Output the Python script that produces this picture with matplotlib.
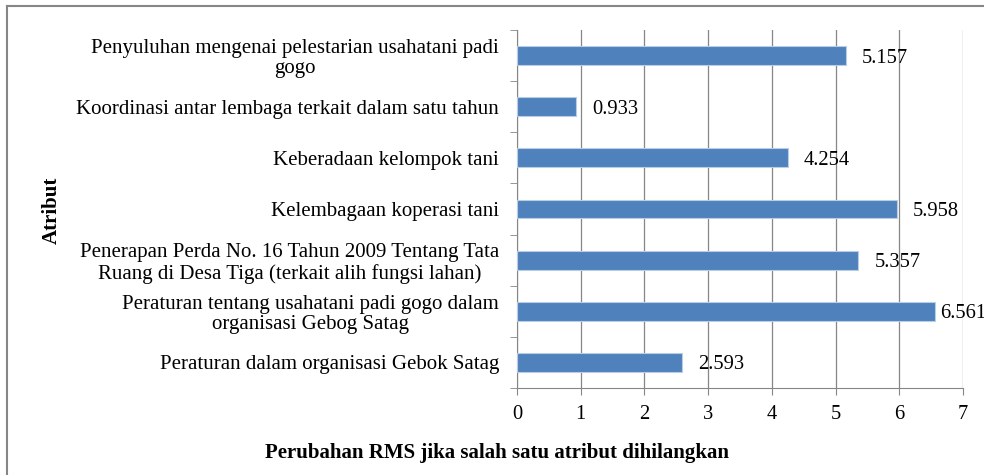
import matplotlib
matplotlib.use('Agg')
from matplotlib import pyplot as plt
from matplotlib.lines import Line2D

# data, top to bottom as in the chart
atribut = [
    'Penyuluhan mengenai pelestarian usahatani padi\ngogo',
    'Koordinasi antar lembaga terkait dalam satu tahun',
    'Keberadaan kelompok tani',
    'Kelembagaan koperasi tani',
    'Penerapan Perda No. 16 Tahun 2009 Tentang Tata\nRuang di Desa Tiga (terkait alih fungsi lahan)',
    'Peraturan tentang usahatani padi gogo dalam\norganisasi Gebog Satag',
    'Peraturan dalam organisasi Gebok Satag',
]
rms = [5.157, 0.933, 4.254, 5.958, 5.357, 6.561, 2.593]
xticks = [0, 1, 2, 3, 4, 5, 6, 7]

plt.rcParams['font.family'] = ['Liberation Serif', 'DejaVu Serif']

fig = plt.figure(figsize=(9.84, 4.75), dpi=100)
ax = fig.add_axes([0.5254, 0.1832, 0.4533, 0.7536])

n = len(atribut)
pos = list(range(n - 1, -1, -1))
ax.barh(pos, rms, height=0.37, color='#4F81BD', edgecolor='#B9CDE5', linewidth=0.8, zorder=3)

# labels pushed left when they would run past the plot edge
for p, v in zip(pos, rms):
    ax.text(min(v + 0.25, 6.64), p - 0.05, '{:.3f}'.format(v), va='center', ha='left',
            fontsize=14.8, zorder=4, clip_on=False)

ax.set_xlim(0, 7)
ax.set_ylim(-0.5, n - 0.5)
ax.set_xticks(xticks)
ax.set_xticklabels([str(t) for t in xticks], fontsize=14.8)

# category labels centred on bars, ticks at boundaries
ax.set_yticks(pos)
ax.set_yticklabels(atribut, fontsize=15, multialignment='center', linespacing=1.1)
ax.tick_params(axis='y', length=0, pad=13)
ax.set_yticks([i - 0.5 for i in range(n + 1)], minor=True)
ax.tick_params(axis='y', which='minor', length=5, color='#868686', direction='out')
ax.tick_params(axis='x', length=5, color='#868686', direction='out', pad=7)

ax.grid(axis='x', color='#868686', linewidth=0.9, zorder=0)
for s in ['top', 'right']:
    ax.spines[s].set_visible(False)
for s in ['left', 'bottom']:
    ax.spines[s].set_color('#868686')

fig.text(0.053, 0.558, 'Atribut', rotation=90, fontsize=15, fontweight='bold', ha='center', va='center')
fig.text(0.505, 0.046, 'Perubahan RMS jika salah satu atribut dihilangkan',
         fontsize=15, fontweight='bold', ha='center', va='center')

# outer frame
fig.add_artist(Line2D([0.007, 0.007], [0.0, 0.987], color='#868686', linewidth=1.5, transform=fig.transFigure))
fig.add_artist(Line2D([0.007, 1.0], [0.987, 0.987], color='#868686', linewidth=1.5, transform=fig.transFigure))

fig.savefig('out.png', dpi=100)
